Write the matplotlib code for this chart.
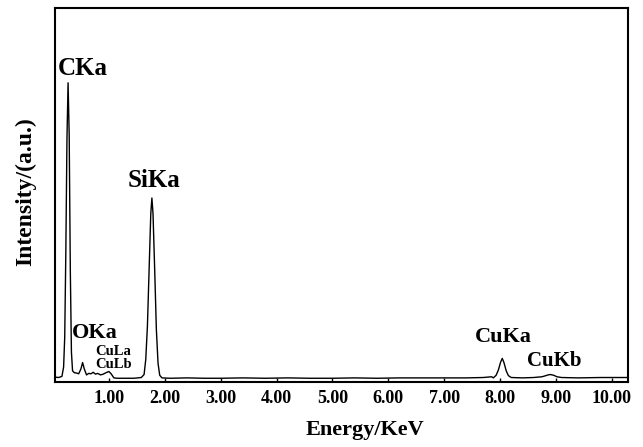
import matplotlib
matplotlib.use("Agg")
import matplotlib.pyplot as plt

# EDS spectrum, values
energy = [0.04, 0.10, 0.16, 0.19, 0.21, 0.23, 0.25, 0.27, 0.29, 0.31, 0.33, 0.35,
          0.38, 0.42, 0.46, 0.50, 0.53, 0.56, 0.60, 0.64, 0.68, 0.72, 0.76, 0.80,
          0.85, 0.90, 0.95, 1.00, 1.04, 1.09, 1.15, 1.30, 1.45, 1.58, 1.63, 1.66,
          1.69, 1.72, 1.75, 1.77, 1.79, 1.82, 1.85, 1.88, 1.91, 1.95, 2.10, 2.40,
          2.70, 3.00, 3.40, 3.80, 4.20, 4.60, 5.00, 5.40, 5.80, 6.20, 6.60, 7.00,
          7.40, 7.70, 7.85, 7.88, 7.93, 7.97, 8.01, 8.04, 8.07, 8.11, 8.15, 8.20,
          8.40, 8.60, 8.75, 8.82, 8.86, 8.90, 8.96, 9.02, 9.10, 9.40, 9.80, 10.30]
intensity = [1.3, 1.2, 1.5, 4.0, 12.0, 35.0, 65.0, 80.0, 66.0, 30.0, 8.0, 3.0,
             2.5, 2.4, 2.2, 3.5, 5.2, 3.5, 1.9, 2.3, 2.2, 2.6, 2.1, 2.3,
             1.9, 2.1, 2.5, 2.8, 2.2, 1.1, 1.0, 1.0, 1.0, 1.2, 2.0, 6.0,
             15.0, 30.0, 45.0, 49.2, 45.0, 30.0, 14.0, 5.0, 1.8, 1.1, 1.0, 1.1,
             1.0, 1.0, 1.1, 1.0, 1.1, 1.0, 1.0, 1.1, 1.0, 1.1, 1.1, 1.1,
             1.1, 1.2, 1.4, 1.1, 1.8, 3.2, 5.3, 6.3, 5.2, 3.0, 1.7, 1.2,
             1.1, 1.2, 1.4, 1.7, 1.9, 2.0, 1.8, 1.4, 1.2, 1.1, 1.2, 1.2]

tick_pos = [1, 2, 3, 4, 5, 6, 7, 8, 9, 10]
tick_labels = ["1.00", "2.00", "3.00", "4.00", "5.00",
               "6.00", "7.00", "8.00", "9.00", "10.00"]

# peak labels: text, x, y (baseline), font size
peak_names = ["CKa", "SiKa", "OKa", "CuLa", "CuLb", "CuKa", "CuKb"]
peak_x = [0.09, 1.34, 0.335, 0.75, 0.75, 7.55, 8.49]
peak_y = [82.1, 52.2, 11.85, 7.1, 3.8, 10.6, 4.36]
peak_size = [18, 18, 16, 10.5, 10.5, 16, 15]

plt.rcParams['font.family'] = ['Liberation Serif', 'DejaVu Serif']
plt.rcParams['font.weight'] = 'bold'

fig = plt.figure(figsize=(6.43, 4.47), dpi=100)
ax = fig.add_axes([55 / 643, 1 - 382 / 447, 573 / 643, 374 / 447])

ax.plot(energy, intensity, color='black', lw=1.0)

for name, x, y, s in zip(peak_names, peak_x, peak_y, peak_size):
    ax.text(x, y, name, fontsize=s, fontweight='bold', ha='left', va='baseline')

ax.set_xlim(0.036, 10.29)
ax.set_ylim(0, 100)
ax.set_xticks(tick_pos)
ax.set_xticklabels(tick_labels)
ax.set_yticks([])
ax.tick_params(axis='x', direction='in', length=3, width=1, pad=6, labelsize=13)
for lab in ax.get_xticklabels():
    lab.set_fontweight('bold')
for sp in ax.spines.values():
    sp.set_linewidth(1.5)

ax.set_xlabel("Energy/KeV", fontsize=16, fontweight='bold')
ax.xaxis.set_label_coords(0.541, -0.102)
ax.set_ylabel("Intensity/(a.u.)", fontsize=17, fontweight='bold')
ax.yaxis.set_label_coords(-0.033, 0.51)

fig.savefig("out.png", dpi=100)
